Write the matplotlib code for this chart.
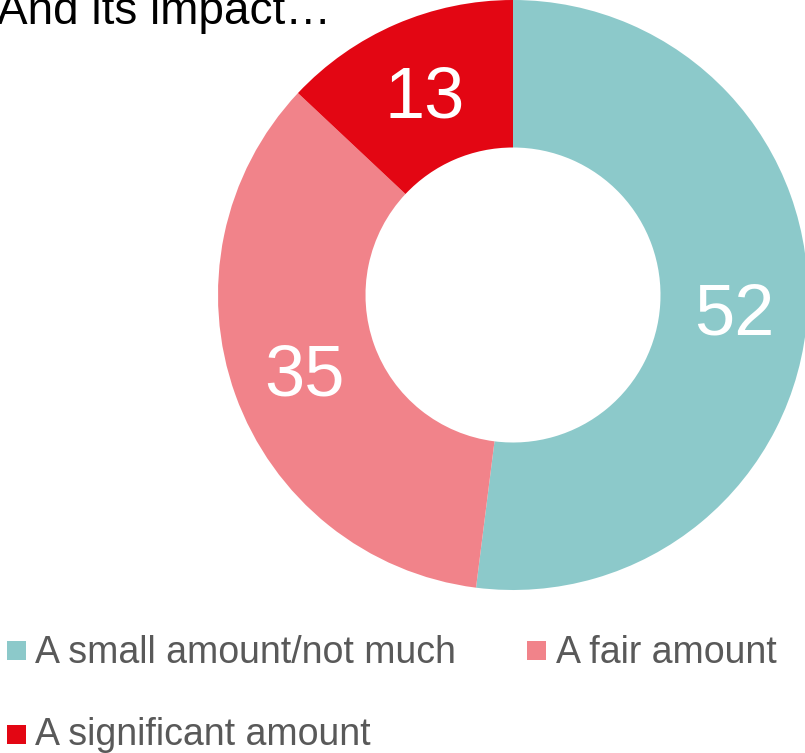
import numpy as np
import matplotlib
matplotlib.use("Agg")
import matplotlib.pyplot as plt
from matplotlib.patches import Rectangle

plt.rcParams["font.family"] = ["Liberation Sans", "DejaVu Sans"]

# Data
categories = ["A small amount/not much", "A fair amount", "A significant amount"]
values = [52, 35, 13]
colors = ["#8CC9CA", "#F1838A", "#E30613"]
title = "And its impact\u2026"

W, H = 805, 753
fig = plt.figure(figsize=(W / 100, H / 100), dpi=100)


def fx(px):
    return px / W


def fy(py):
    return 1 - py / H


# Donut axes: centre (513, 295), radius 295 px
cx, cy, r = 513, 295, 295
ax = fig.add_axes([fx(cx - r), fy(cy + r), 2 * r / W, 2 * r / H])
wedges, _ = ax.pie(values, colors=colors, startangle=90, counterclock=False,
                   radius=1, wedgeprops=dict(width=0.5, linewidth=0))
ax.set_xlim(-1, 1)
ax.set_ylim(-1, 1)
ax.set_aspect("equal")
ax.axis("off")

# Value labels centred in the ring
digit_half = 0.088
for w, v in zip(wedges, values):
    mid = np.deg2rad((w.theta1 + w.theta2) / 2)
    x, y = 0.75 * np.cos(mid), 0.75 * np.sin(mid)
    ax.text(x, y - digit_half, f"{v}", ha="center", va="baseline",
            fontsize=52, color="white")

# Title
fig.text(fx(-3), fy(24), title, fontsize=33, color="black",
         ha="left", va="baseline")

# Legend
legend_pos = [(7, 641, 35, 663), (527, 641, 556, 663), (7, 725, 35, 745)]
for (sx, sy, tx, ty), lab, col in zip(legend_pos, categories, colors):
    fig.patches.append(Rectangle((fx(sx), fy(sy + 19)), 19 / W, 19 / H,
                                 transform=fig.transFigure, facecolor=col,
                                 edgecolor="none"))
    fig.text(fx(tx), fy(ty), lab, fontsize=27, color="#595959",
             ha="left", va="baseline")

fig.savefig("out.png", dpi=100)
